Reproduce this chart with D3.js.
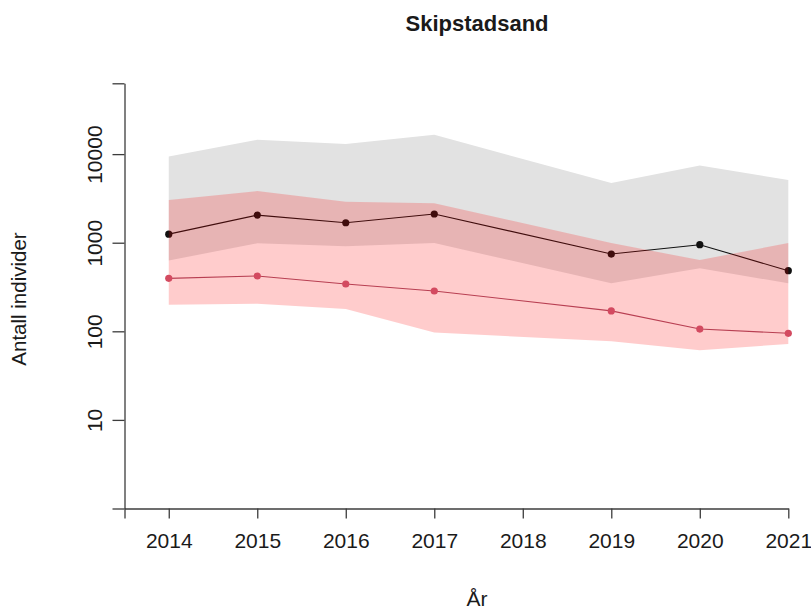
<!DOCTYPE html>
<html>
<head>
<meta charset="utf-8">
<script src="https://cdn.jsdelivr.net/npm/d3@7"></script>
<style>
  html, body { margin: 0; padding: 0; background: #fff; }
  svg { display: block; font-family: "Liberation Sans", Arial, sans-serif; }
</style>
</head>
<body>
<svg id="chart" width="811" height="609"></svg>
<script>
// Survey years (no count in 2018)
const years = [2014, 2015, 2016, 2017, 2019, 2020, 2021];

// Total estimate with confidence band
const totalEst  = [1250, 2050, 1680, 2110, 745, 950, 483];
const totalLow  = [630, 985, 910, 990, 348, 514, 348];
const totalHigh = [9400, 14500, 13000, 16500, 4710, 7430, 5100];

// Second series with confidence band
const subEst  = [396, 421, 342, 285, 170, 106, 95];
const subLow  = [200, 205, 178, 97, 77, 61, 72];
const subHigh = [3030, 3830, 2900, 2790, 990, 638, 993];

// Axis ticks
const xTicks = [2013.5, 2014, 2015, 2016, 2017, 2018, 2019, 2020, 2021];
const xTickLabels = ["", "2014", "2015", "2016", "2017", "2018", "2019", "2020", "2021"];
const yTicks = [1, 10, 100, 1000, 10000, 63000];
const yTickLabels = ["", "10", "100", "1000", "10000", ""];

const title = "Skipstadsand";
const xTitle = "År";
const yTitle = "Antall individer";

const svg = d3.select("#chart");

const x = d3.scaleLinear().domain([2013.5, 2021]).range([124.5, 788.3]);
const y = d3.scaleLog().domain([1, 63000]).range([508.5, 83.3]);

const rows = years.map((yr, i) => ({
  year: yr,
  est: totalEst[i], lo: totalLow[i], hi: totalHigh[i],
  sEst: subEst[i], sLo: subLow[i], sHi: subHigh[i]
}));

const bandTotal = d3.area().x(d => x(d.year)).y0(d => y(d.lo)).y1(d => y(d.hi));
const bandSub = d3.area().x(d => x(d.year)).y0(d => y(d.sLo)).y1(d => y(d.sHi));
const lineTotal = d3.line().x(d => x(d.year)).y(d => y(d.est));
const lineSub = d3.line().x(d => x(d.year)).y(d => y(d.sEst));

// Grey band for the total
svg.append("path").datum(rows).attr("d", bandTotal).attr("fill", "#e2e2e2");

// Total line and points (sit under the translucent red band)
svg.append("path").datum(rows).attr("d", lineTotal)
  .attr("fill", "none").attr("stroke", "#111").attr("stroke-width", 1.1);
svg.append("g").selectAll("circle").data(rows).join("circle")
  .attr("cx", d => x(d.year)).attr("cy", d => y(d.est)).attr("r", 3.6)
  .attr("fill", "#111");

// Translucent red band
svg.append("path").datum(rows).attr("d", bandSub).attr("fill", "rgba(255,0,0,0.2)");

// Second series line and points
svg.append("path").datum(rows).attr("d", lineSub)
  .attr("fill", "none").attr("stroke", "#b83f52").attr("stroke-width", 1.1);
svg.append("g").selectAll("circle").data(rows).join("circle")
  .attr("cx", d => x(d.year)).attr("cy", d => y(d.sEst)).attr("r", 3.6)
  .attr("fill", "#d34a60");

// X axis
const xAxis = d3.axisBottom(x)
  .tickValues(xTicks)
  .tickSize(10)
  .tickSizeOuter(0)
  .tickFormat((d, i) => xTickLabels[i]);
const gx = svg.append("g").attr("transform", "translate(0,508.5)").call(xAxis);
gx.selectAll("text").attr("y", 39.5).attr("dy", 0)
  .attr("font-size", 21).attr("fill", "#1a1a1a");

// Y axis
const yAxis = d3.axisLeft(y)
  .tickValues(yTicks)
  .tickSize(12)
  .tickSizeOuter(0)
  .tickFormat((d, i) => yTickLabels[i]);
const gy = svg.append("g").attr("transform", "translate(124.5,0)").call(yAxis);
gy.selectAll("text")
  .attr("x", 0).attr("y", 0).attr("dy", 0)
  .attr("transform", "translate(-22.5,0) rotate(-90)")
  .attr("text-anchor", "middle")
  .attr("font-size", 21).attr("fill", "#1a1a1a");

[gx, gy].forEach(g => {
  g.attr("font-family", null).attr("font-size", null);
  g.selectAll("path, line").attr("stroke", "#3c3c3c").attr("stroke-width", 1.3);
});

// Titles
svg.append("text").attr("x", 477).attr("y", 31)
  .attr("text-anchor", "middle").attr("font-size", 22).attr("font-weight", "bold")
  .attr("fill", "#1a1a1a").text(title);

svg.append("text").attr("x", 477).attr("y", 606)
  .attr("text-anchor", "middle").attr("font-size", 21).attr("fill", "#1a1a1a")
  .text(xTitle);

svg.append("text")
  .attr("transform", "translate(26,299) rotate(-90)")
  .attr("text-anchor", "middle").attr("font-size", 20.5).attr("fill", "#1a1a1a")
  .text(yTitle);
</script>
</body>
</html>
